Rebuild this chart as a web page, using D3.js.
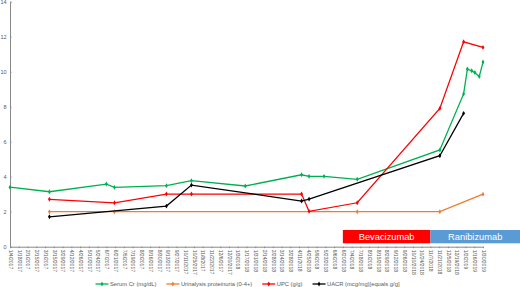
<!DOCTYPE html>
<html>
<head>
<meta charset="utf-8">
<script src="https://cdn.jsdelivr.net/npm/d3@7"></script>
<style>
  html, body { margin: 0; padding: 0; background: #fff; }
  svg { display: block; font-family: "Liberation Sans", Arial, sans-serif; }
</style>
</head>
<body>
<div id="chart"></div>
<script>
// Lab values over time, with treatment periods along the bottom
const crDates = ["2017-01-04", "2017-03-08", "2017-06-07", "2017-06-20", "2017-09-11", "2017-10-21",
  "2018-01-15", "2018-04-15", "2018-04-27", "2018-05-21", "2018-07-13", "2018-11-22",
  "2018-12-30", "2019-01-05", "2019-01-12", "2019-01-17", "2019-01-24", "2019-01-30"]
const crValues = [3.4, 3.14, 3.58, 3.39, 3.49, 3.77, 3.47, 4.11, 4.02, 4.02, 3.85, 5.53,
  8.73, 10.15, 10.05, 9.95, 9.72, 10.55]

const protDates = ["2017-03-08", "2017-06-20", "2018-07-13", "2018-11-22", "2019-01-30"]
const protValues = [2, 2, 2, 2, 3]

const upcDates = ["2017-03-08", "2017-06-20", "2017-09-11", "2017-10-21", "2018-04-15",
  "2018-04-27", "2018-07-13", "2018-11-22", "2018-12-30", "2019-01-30"]
const upcValues = [2.71, 2.51, 3.01, 3.01, 3.01, 2.02, 2.51, 7.9, 11.71, 11.39]

const uacrDates = ["2017-03-08", "2017-09-11", "2017-10-21", "2018-04-15", "2018-04-27",
  "2018-11-22", "2018-12-30"]
const uacrValues = [1.71, 2.32, 3.52, 2.61, 2.72, 5.2, 7.62]

const seriesNames = ["Serum Cr (mg/dL)", "Urinalysis proteinuria (0-4+)", "UPC (g/g)", "UACR (mcg/mg)[equals g/g]"]
const seriesColors = ["#00b050", "#ed7d31", "#ff0000", "#000000"]

const treatmentNames = ["Bevacizumab", "Ranibizumab"]
const treatmentStarts = ["2018-06-20", "2018-11-07"]
const treatmentEnds = ["2018-11-07", "2019-04-15"]
const treatmentColors = ["#ff0000", "#5b9bd5"]

const yTicks = [0, 2, 4, 6, 8, 10, 12, 14]
const axisStart = "2017-01-04"
const axisEnd = "2019-01-30"

const W = 520, H = 287
const parse = d3.utcParse("%Y-%m-%d")
const fmt = d3.utcFormat("%-m/%-d/%Y")

const svg = d3.select("#chart").append("svg")
  .attr("width", W).attr("height", H)

const x = d3.scaleUtc()
  .domain([parse(axisStart), parse(axisEnd)])
  .range([10, 483])

const y = d3.scaleLinear()
  .domain([0, 14])
  .range([246.7, 1.7])

// Treatment bars (drawn under the axis)
treatmentNames.forEach((name, i) => {
  const x0 = x(parse(treatmentStarts[i]))
  const x1 = Math.min(W, x(parse(treatmentEnds[i])))
  svg.append("rect")
    .attr("x", x0).attr("y", 230)
    .attr("width", x1 - x0).attr("height", 13.3)
    .attr("fill", treatmentColors[i])
  svg.append("text")
    .attr("x", (x0 + x1) / 2).attr("y", 240)
    .attr("text-anchor", "middle")
    .attr("fill", "#fff")
    .attr("font-size", "9.3px")
    .text(name)
})

// Y axis
const yAxis = svg.append("g")
  .attr("transform", `translate(${x.range()[0]},0)`)
  .call(d3.axisRight(y).tickValues(yTicks).tickSize(1.5).tickFormat(d3.format("d")))
yAxis.select(".domain").attr("stroke", "#888")
yAxis.selectAll(".tick line").attr("stroke", "#888")
yAxis.selectAll(".tick text")
  .attr("x", -3.5).attr("dy", "0.35em")
  .attr("text-anchor", "end")
  .attr("fill", "#595959")
  .attr("font-size", "5.5px")

// X axis, a tick every 14 days
const tickDates = d3.utcDay.range(parse(axisStart), d3.utcDay.offset(parse(axisEnd), 1), 14)
const xAxis = svg.append("g")
  .attr("transform", `translate(0,${y(0)})`)
  .call(d3.axisBottom(x).tickValues(tickDates).tickSize(1.5).tickSizeOuter(0).tickFormat(fmt))
xAxis.select(".domain").attr("stroke", "#888")
xAxis.selectAll(".tick line").attr("stroke", "#888")
xAxis.selectAll(".tick text")
  .attr("transform", "rotate(90)")
  .attr("x", 3).attr("y", 0).attr("dy", "0.35em")
  .attr("text-anchor", "start")
  .attr("fill", "#595959")
  .attr("font-size", "5px")

// Series
const series = [
  [crDates, crValues],
  [protDates, protValues],
  [upcDates, upcValues],
  [uacrDates, uacrValues]
].map(([ds, vs], i) => ({
  name: seriesNames[i],
  color: seriesColors[i],
  points: ds.map((d, j) => ({ date: parse(d), value: vs[j] }))
}))

const line = d3.line().x(d => x(d.date)).y(d => y(d.value))
const diamond = d3.symbol().type(d3.symbolDiamond).size(7)

series.forEach(s => {
  const g = svg.append("g")
  g.append("path")
    .datum(s.points)
    .attr("d", line)
    .attr("fill", "none")
    .attr("stroke", s.color)
    .attr("stroke-width", 1.3)
  g.selectAll("path.m")
    .data(s.points)
    .enter().append("path")
    .attr("class", "m")
    .attr("d", diamond)
    .attr("transform", d => `translate(${x(d.date)},${y(d.value)})`)
    .attr("fill", s.color)
})

// Legend
const legend = svg.append("g")
let lx = 0
series.forEach(s => {
  const item = legend.append("g").attr("transform", `translate(${lx},0)`)
  item.append("line")
    .attr("x1", 0).attr("x2", 13).attr("y1", 0).attr("y2", 0)
    .attr("stroke", s.color).attr("stroke-width", 1.3)
  item.append("path").attr("d", diamond).attr("transform", "translate(6.5,0)").attr("fill", s.color)
  const t = item.append("text")
    .attr("x", 14.5).attr("dy", "0.35em")
    .attr("fill", "#595959")
    .attr("font-size", "5.8px")
    .text(s.name)
  lx += 14.5 + t.node().getComputedTextLength() + 10
})
legend.attr("transform", `translate(${247.5 - (lx - 10) / 2},284)`)
</script>
</body>
</html>
